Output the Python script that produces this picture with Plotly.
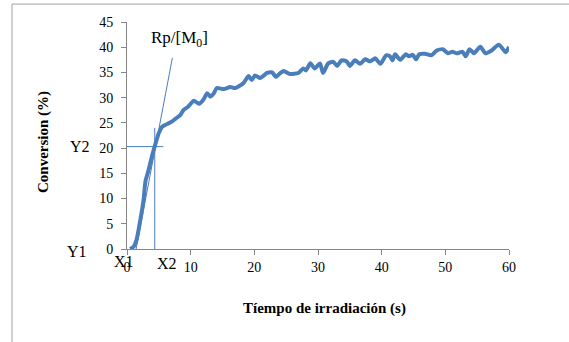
import plotly.graph_objects as go

# Data
time_s = [0.5, 1.07, 1.5, 2.1, 2.6, 2.9, 3.4, 3.9, 4.5, 5.0, 5.5, 6.0, 6.5, 7.1, 7.6, 8.4, 8.9,
          9.6, 10.5, 11.3, 12.0, 12.6, 13.1, 13.6, 14.1, 15.2, 16.2, 17.0, 17.5, 18.3, 19.1, 19.6,
          20.1, 20.9, 21.4, 22.0, 22.8, 23.4, 24.0, 24.6, 25.6, 26.9, 27.7, 28.1, 28.8, 29.5,
          30.3, 30.8, 31.6, 32.4, 33.0, 33.7, 34.5, 35.0, 35.8, 36.6, 37.4, 38.2, 39.0, 39.8,
          40.7, 41.3, 41.7, 42.1, 42.9, 43.8, 44.3, 44.9, 45.4, 45.9, 46.8, 47.8, 48.6, 49.6,
          50.4, 51.1, 51.8, 52.7, 53.2, 53.8, 54.5, 55.5, 56.3, 57.2, 58.4, 59.5, 60.0]
conversion = [0.0, 0.5, 1.8, 5.8, 9.7, 13.4, 15.7, 18.3, 21.0, 23.0, 24.2, 24.6, 24.9, 25.3, 25.8, 26.6, 27.6,
              28.2, 29.4, 28.8, 29.6, 30.9, 30.2, 30.8, 31.9, 31.7, 32.1, 31.9, 32.2, 32.9, 34.3, 33.5,
              34.4, 33.9, 34.3, 34.9, 35.0, 34.1, 34.8, 35.3, 34.7, 34.9, 35.8, 35.4, 36.8, 35.8,
              36.8, 34.9, 36.8, 37.1, 36.3, 37.4, 37.2, 36.3, 37.4, 36.7, 37.6, 37.2, 37.8, 36.7,
              38.4, 38.2, 37.4, 38.6, 37.5, 38.6, 38.2, 38.5, 37.6, 38.6, 38.7, 38.4, 39.3, 39.6,
              38.8, 39.1, 38.8, 39.1, 38.2, 39.6, 38.8, 40.1, 38.8, 39.3, 40.5, 39.0, 40.1]

# Tangent (Rp/[M0]) and construction lines
tangent_x = [1.43, 7.13]
tangent_y = [0.0, 37.9]
x2_val = 4.36
y2_val = 20.3
hline_x = [0.0, 5.7]
vline_y = [0.0, 24.0]

x_ticks = [0, 10, 20, 30, 40, 50, 60]
y_ticks = [0, 5, 10, 15, 20, 25, 30, 35, 40, 45]

x_title = "Tíempo de irradiación (s)"
y_title = "Conversion (%)"

BLUE = "#4a7ebb"
GRAY = "#868686"
FONT = "Liberation Serif, Times New Roman, serif"

fig = go.Figure()
fig.add_trace(go.Scatter(x=tangent_x, y=tangent_y, mode="lines",
                         line=dict(color=BLUE, width=1), showlegend=False, hoverinfo="skip"))
fig.add_trace(go.Scatter(x=hline_x, y=[y2_val, y2_val], mode="lines",
                         line=dict(color=BLUE, width=1), showlegend=False, hoverinfo="skip"))
fig.add_trace(go.Scatter(x=[x2_val, x2_val], y=vline_y, mode="lines",
                         line=dict(color=BLUE, width=1), showlegend=False, hoverinfo="skip"))
fig.add_trace(go.Scatter(x=time_s, y=conversion, mode="lines",
                         line=dict(color=BLUE, width=4, shape="spline", smoothing=0.6),
                         showlegend=False))

# frame lines (paper coords)
fig.add_shape(type="line", xref="paper", yref="paper", x0=-0.301, x1=1.2, y0=1.079, y1=1.079,
              line=dict(color="#a0a0a0", width=1))
fig.add_shape(type="line", xref="paper", yref="paper", x0=-0.301, x1=-0.301, y0=1.079, y1=-0.42,
              line=dict(color="#a0a0a0", width=1))

ann_font = dict(family=FONT, size=16, color="black")
fig.add_annotation(text="Y2", xref="paper", yref="y", x=-0.123, y=y2_val, showarrow=False,
                   font=ann_font, xanchor="center", yanchor="middle")
fig.add_annotation(text="Y1", xref="paper", yref="paper", x=-0.131, y=-0.01, showarrow=False,
                   font=ann_font, xanchor="center", yanchor="middle")
fig.add_annotation(text="X1", xref="paper", yref="paper", x=-0.008, y=-0.053, showarrow=False,
                   font=ann_font, xanchor="center", yanchor="middle")
fig.add_annotation(text="X2", xref="x", yref="paper", x=x2_val + 2.0, y=-0.066, showarrow=False,
                   font=ann_font, xanchor="center", yanchor="middle")
fig.add_annotation(text="Rp/[M<sub>0</sub>]", xref="x", yref="y", x=8.2, y=41.6, showarrow=False,
                   font=dict(family=FONT, size=17, color="black"), xanchor="center", yanchor="middle")

# axis titles
fig.add_annotation(text="<b>" + x_title + "</b>", xref="paper", yref="paper", x=0.518, y=-0.26,
                   showarrow=False, font=dict(family=FONT, size=15, color="black"),
                   xanchor="center", yanchor="middle")
fig.add_annotation(text="<b>" + y_title + "</b>", xref="paper", yref="paper", x=-0.22, y=0.471,
                   textangle=-90, showarrow=False, font=dict(family=FONT, size=15, color="black"),
                   xanchor="center", yanchor="middle")

fig.update_layout(
    width=569, height=342,
    margin=dict(l=127, r=60, t=22, b=93),
    paper_bgcolor="white", plot_bgcolor="white",
    font=dict(family=FONT, size=14, color="black"),
    xaxis=dict(range=[0, 60], tickvals=x_ticks, showgrid=False, zeroline=False,
               showline=True, linecolor=GRAY, linewidth=1,
               ticks="outside", ticklen=5, tickcolor=GRAY,
               tickfont=dict(family=FONT, size=14, color="black")),
    yaxis=dict(range=[0, 45], tickvals=y_ticks, showgrid=False, zeroline=False,
               showline=True, linecolor=GRAY, linewidth=1,
               ticks="outside", ticklen=5, tickcolor=GRAY, ticklabelstandoff=5,
               tickfont=dict(family=FONT, size=14, color="black")),
)

fig.write_html("out.html")
